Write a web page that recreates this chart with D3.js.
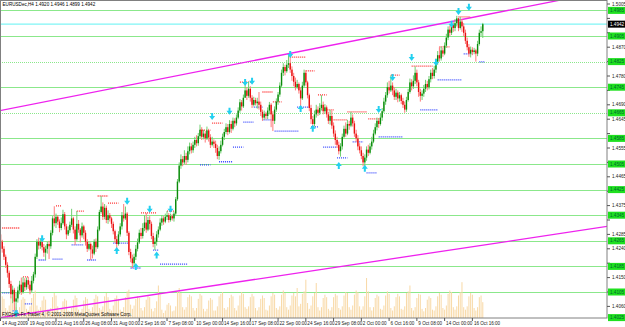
<!DOCTYPE html>
<html lang="en">
  <head>
    <meta charset="UTF-8" />
    <title>EURUSDec,H4</title>
    <style>
      body { margin: 0; background: #fff; }
      svg { display: block; }
      text { font-family: "Liberation Sans", Arial, sans-serif; }
    </style>
  </head>
  <body>
    <svg id="chart" width="625" height="327"></svg>
    <script src="https://cdn.jsdelivr.net/npm/d3@7"></script>
    <script>
      // ---- data ----
      var header = 'EURUSDec,H4  1.4920 1.4946 1.4899 1.4942';
      var footer = 'FXOpen-Fx Trader 4, © 2001-2009 MetaQuotes Software Corp.';

      var timeLabelBars = [0, 16, 32, 48, 64, 80, 96, 112, 128, 144, 160, 176, 192, 208, 224, 240, 256, 272];
      var timeLabels = ['14 Aug 2009', '19 Aug 00:00', '21 Aug 16:00', '26 Aug 08:00', '31 Aug 00:00', '2 Sep 16:00',
        '7 Sep 08:00', '10 Sep 00:00', '14 Sep 16:00', '17 Sep 08:00', '22 Sep 00:00', '24 Sep 16:00',
        '29 Sep 08:00', '2 Oct 00:00', '6 Oct 16:00', '9 Oct 08:00', '14 Oct 00:00', '16 Oct 16:00'];

      var priceTicks = [1.5005, 1.4960, 1.4915, 1.4870, 1.4825, 1.4780, 1.4735, 1.4690, 1.4645, 1.4600, 1.4555,
        1.4510, 1.4465, 1.4420, 1.4375, 1.4330, 1.4285, 1.4240, 1.4195, 1.4150, 1.4105, 1.4060];

      var levels = [1.4985, 1.4905, 1.4825, 1.4745, 1.4665, 1.4585, 1.4505, 1.4425, 1.4345, 1.4265, 1.4185, 1.4105, 1.4025];
      var dottedLevels = [1.4825, 1.4665];
      var bid = 1.4942;

      var firstOpen = 1.4285;
      var closes = [
        1.4262,1.4240,1.4215,1.4190,1.4165,1.4130,1.4098,1.4112,1.4075,1.4085,
        1.4110,1.4128,1.4105,1.4135,1.4120,1.4142,1.4128,1.4110,1.4140,1.4160,
        1.4215,1.4262,1.4250,1.4262,1.4245,1.4228,1.4240,1.4255,1.4248,1.4290,
        1.4335,1.4320,1.4340,1.4325,1.4305,1.4320,1.4348,1.4310,1.4285,1.4298,
        1.4315,1.4335,1.4300,1.4270,1.4318,1.4300,1.4282,1.4310,1.4290,1.4262,
        1.4240,1.4255,1.4238,1.4225,1.4262,1.4245,1.4300,1.4355,1.4372,1.4340,
        1.4368,1.4330,1.4345,1.4335,1.4318,1.4295,1.4270,1.4255,1.4285,1.4310,
        1.4345,1.4335,1.4350,1.4290,1.4230,1.4210,1.4195,1.4215,1.4240,1.4260,
        1.4290,1.4280,1.4305,1.4322,1.4300,1.4330,1.4318,1.4280,1.4255,1.4262,
        1.4285,1.4300,1.4322,1.4335,1.4325,1.4340,1.4345,1.4330,1.4342,1.4335,
        1.4350,1.4395,1.4450,1.4500,1.4520,1.4510,1.4530,1.4518,1.4545,1.4560,
        1.4548,1.4565,1.4580,1.4570,1.4592,1.4612,1.4590,1.4600,1.4585,1.4610,
        1.4588,1.4565,1.4575,1.4568,1.4555,1.4530,1.4545,1.4565,1.4590,1.4605,
        1.4620,1.4605,1.4630,1.4615,1.4640,1.4632,1.4650,1.4672,1.4698,1.4685,
        1.4712,1.4735,1.4718,1.4740,1.4712,1.4690,1.4705,1.4695,1.4700,1.4690,
        1.4668,1.4650,1.4662,1.4655,1.4672,1.4690,1.4660,1.4640,1.4675,1.4700,
        1.4722,1.4750,1.4790,1.4808,1.4795,1.4815,1.4820,1.4800,1.4780,1.4762,
        1.4745,1.4755,1.4735,1.4710,1.4750,1.4790,1.4760,1.4720,1.4680,1.4645,
        1.4630,1.4660,1.4675,1.4665,1.4680,1.4690,1.4670,1.4682,1.4660,1.4640,
        1.4655,1.4625,1.4600,1.4580,1.4565,1.4545,1.4560,1.4590,1.4615,1.4600,
        1.4630,1.4625,1.4650,1.4632,1.4600,1.4585,1.4560,1.4548,1.4530,1.4510,
        1.4525,1.4550,1.4540,1.4560,1.4575,1.4600,1.4620,1.4640,1.4630,1.4650,
        1.4670,1.4700,1.4720,1.4745,1.4735,1.4750,1.4735,1.4715,1.4728,1.4710,
        1.4720,1.4702,1.4690,1.4675,1.4705,1.4730,1.4760,1.4748,1.4765,1.4790,
        1.4760,1.4730,1.4718,1.4725,1.4740,1.4755,1.4745,1.4770,1.4790,1.4780,
        1.4800,1.4825,1.4845,1.4835,1.4860,1.4850,1.4875,1.4900,1.4925,1.4915,
        1.4940,1.4930,1.4945,1.4960,1.4930,1.4950,1.4935,1.4915,1.4890,1.4870,
        1.4850,1.4862,1.4855,1.4860,1.4850,1.4880,1.4915,1.4920,1.4942];
      var highs = [
        1.4305,1.4268,1.4248,1.4222,1.4198,1.4172,1.4140,1.4125,1.4118,1.4102,
        1.4122,1.4140,1.4150,1.4152,1.4148,1.4150,1.4152,1.4140,1.4155,1.4168,
        1.4225,1.4270,1.4275,1.4272,1.4278,1.4255,1.4250,1.4262,1.4265,1.4298,
        1.4342,1.4373,1.4350,1.4345,1.4332,1.4338,1.4362,1.4355,1.4318,1.4310,
        1.4325,1.4365,1.4340,1.4310,1.4358,1.4330,1.4305,1.4322,1.4315,1.4298,
        1.4270,1.4262,1.4260,1.4250,1.4270,1.4272,1.4310,1.4362,1.4405,1.4385,
        1.4380,1.4375,1.4360,1.4352,1.4340,1.4325,1.4300,1.4280,1.4295,1.4320,
        1.4355,1.4380,1.4372,1.4355,1.4295,1.4240,1.4222,1.4225,1.4252,1.4272,
        1.4300,1.4305,1.4320,1.4345,1.4352,1.4340,1.4342,1.4325,1.4290,1.4275,
        1.4295,1.4310,1.4335,1.4345,1.4342,1.4350,1.4358,1.4352,1.4350,1.4348,
        1.4356,1.4402,1.4458,1.4510,1.4535,1.4530,1.4548,1.4540,1.4560,1.4572,
        1.4570,1.4575,1.4590,1.4595,1.4602,1.4628,1.4620,1.4612,1.4608,1.4622,
        1.4615,1.4598,1.4590,1.4582,1.4578,1.4565,1.4560,1.4578,1.4600,1.4615,
        1.4632,1.4630,1.4642,1.4640,1.4650,1.4648,1.4660,1.4682,1.4708,1.4705,
        1.4722,1.4760,1.4745,1.4762,1.4748,1.4720,1.4715,1.4712,1.4712,1.4730,
        1.4700,1.4675,1.4672,1.4668,1.4682,1.4699,1.4695,1.4670,1.4685,1.4710,
        1.4730,1.4760,1.4800,1.4820,1.4815,1.4830,1.4845,1.4840,1.4810,1.4790,
        1.4775,1.4768,1.4760,1.4745,1.4762,1.4800,1.4798,1.4765,1.4725,1.4690,
        1.4655,1.4672,1.4690,1.4685,1.4695,1.4720,1.4700,1.4692,1.4688,1.4668,
        1.4674,1.4672,1.4635,1.4610,1.4590,1.4575,1.4570,1.4600,1.4625,1.4635,
        1.4643,1.4640,1.4668,1.4660,1.4640,1.4612,1.4595,1.4570,1.4560,1.4540,
        1.4535,1.4560,1.4565,1.4570,1.4590,1.4612,1.4632,1.4650,1.4648,1.4662,
        1.4680,1.4712,1.4730,1.4760,1.4765,1.4782,1.4760,1.4745,1.4740,1.4735,
        1.4730,1.4725,1.4712,1.4700,1.4715,1.4740,1.4772,1.4770,1.4782,1.4810,
        1.4800,1.4768,1.4740,1.4735,1.4752,1.4768,1.4765,1.4780,1.4800,1.4805,
        1.4812,1.4835,1.4858,1.4870,1.4872,1.4868,1.4885,1.4912,1.4935,1.4938,
        1.4950,1.4948,1.4958,1.4968,1.4962,1.4965,1.4958,1.4945,1.4925,1.4900,
        1.4880,1.4872,1.4870,1.4868,1.4865,1.4890,1.4925,1.4935,1.4946];
      var lows = [
        1.4250,1.4228,1.4205,1.4180,1.4150,1.4118,1.4085,1.4070,1.4048,1.4045,
        1.4072,1.4098,1.4096,1.4100,1.4108,1.4112,1.4115,1.4098,1.4105,1.4132,
        1.4150,1.4208,1.4238,1.4240,1.4235,1.4215,1.4205,1.4225,1.4208,1.4240,
        1.4282,1.4310,1.4305,1.4315,1.4292,1.4298,1.4315,1.4300,1.4270,1.4280,
        1.4290,1.4308,1.4288,1.4252,1.4265,1.4290,1.4260,1.4275,1.4270,1.4250,
        1.4230,1.4235,1.4205,1.4210,1.4220,1.4230,1.4240,1.4295,1.4350,1.4330,
        1.4332,1.4320,1.4318,1.4325,1.4305,1.4285,1.4258,1.4240,1.4250,1.4278,
        1.4300,1.4325,1.4330,1.4280,1.4220,1.4198,1.4180,1.4185,1.4205,1.4232,
        1.4255,1.4270,1.4272,1.4295,1.4290,1.4295,1.4300,1.4270,1.4245,1.4236,
        1.4250,1.4275,1.4295,1.4312,1.4315,1.4320,1.4330,1.4322,1.4325,1.4328,
        1.4325,1.4345,1.4390,1.4445,1.4490,1.4498,1.4505,1.4502,1.4510,1.4535,
        1.4538,1.4540,1.4555,1.4560,1.4562,1.4585,1.4580,1.4582,1.4572,1.4580,
        1.4575,1.4555,1.4560,1.4555,1.4540,1.4520,1.4518,1.4538,1.4560,1.4580,
        1.4598,1.4595,1.4600,1.4602,1.4610,1.4620,1.4625,1.4645,1.4665,1.4672,
        1.4680,1.4715,1.4705,1.4712,1.4700,1.4680,1.4685,1.4688,1.4678,1.4675,
        1.4655,1.4640,1.4643,1.4645,1.4645,1.4660,1.4620,1.4608,1.4630,1.4668,
        1.4690,1.4715,1.4745,1.4780,1.4782,1.4790,1.4805,1.4790,1.4765,1.4748,
        1.4735,1.4740,1.4725,1.4683,1.4705,1.4745,1.4750,1.4710,1.4670,1.4630,
        1.4620,1.4622,1.4650,1.4655,1.4658,1.4672,1.4660,1.4662,1.4650,1.4630,
        1.4628,1.4615,1.4590,1.4565,1.4555,1.4535,1.4528,1.4550,1.4585,1.4590,
        1.4595,1.4612,1.4620,1.4622,1.4590,1.4574,1.4548,1.4538,1.4520,1.4498,
        1.4483,1.4515,1.4530,1.4535,1.4550,1.4570,1.4595,1.4610,1.4618,1.4625,
        1.4640,1.4665,1.4690,1.4712,1.4725,1.4730,1.4720,1.4705,1.4705,1.4698,
        1.4700,1.4692,1.4680,1.4665,1.4668,1.4700,1.4725,1.4735,1.4740,1.4755,
        1.4748,1.4715,1.4700,1.4705,1.4715,1.4730,1.4735,1.4738,1.4760,1.4770,
        1.4772,1.4790,1.4815,1.4825,1.4828,1.4840,1.4845,1.4868,1.4892,1.4905,
        1.4908,1.4918,1.4920,1.4935,1.4920,1.4925,1.4918,1.4905,1.4880,1.4860,
        1.4840,1.4838,1.4845,1.4848,1.4825,1.4842,1.4875,1.4905,1.4899];
      var volumes = [
        2100,2600,2300,1200,
        900,1500,2600,3100,2800,1300, 800,1300,2200,2500,2300,1100, 900,1400,2400,2900,3300,1500,
        1000,1300,2100,2600,2200,1000, 800,1200,2500,3000,2700,1400,
        700,1100,2000,2300,2100,900, 800,1200,2200,2700,2400,1000, 700,1100,2100,2500,2300,1100,
        800,1300,2300,2800,2600,1200, 1000,1400,2600,3000,2500,1100,
        900,1500,2400,2700,2300,1000, 800,1300,2500,3200,3400,1600, 1100,1500,2300,2600,2400,1200,
        900,1300,2200,2700,2500,1100, 800,1200,2000,3900,2800,1000,
        600,900,1600,1800,1500,800, 900,1400,3200,3600,3000,1300, 1000,1300,2500,2800,2600,1200,
        900,1200,2300,2900,2700,1100, 800,1100,2100,2400,2200,900,
        900,1400,2600,2900,3100,1200, 1000,1300,2400,2800,2600,1200, 900,1500,2700,3100,2900,1300,
        1100,1400,2500,2900,2600,1200, 900,1300,2300,2700,2400,1000,
        900,1500,2600,3000,2800,1200, 1000,1400,2800,3300,3000,1300, 1000,1500,2700,3000,2600,3600,
        1400,1700,2900,3200,4600,1800, 1100,1500,2600,3000,4200,1300,
        900,1300,2400,2800,2500,1100, 900,1300,2500,2900,2700,1200, 1000,1400,2700,3100,3000,1300,
        1000,1500,2800,3300,3100,1400, 1000,1400,2600,4800,3200,1300,
        900,1300,2400,2800,2600,1100, 1000,1500,2700,3200,2900,1200, 900,1400,2500,2900,2600,1100,
        1000,1400,3000,3200,3900,1200, 900,1300,2400,2900,2800,1100,
        800,1200,2200,2600,2400,1000, 900,1400,2600,3000,2800,1200, 1000,1500,2900,3300,3100,1300,
        1000,1400,2700,3100,4300,1300, 1000,1400,2600,3000,2800,1200,
        900,1300,2500,2700,1900];

      // trend lines: two anchor points [bar, price]
      var trendUpper = [[0, 1.4672], [300, 1.4993]];
      var trendLower = [[10, 1.4033], [340, 1.4302]];

      // dotted fractal levels [fromBar, toBar, price]
      var resistMarks = [[1, 11, 1.4305], [13, 16, 1.4152], [32, 35, 1.4374], [44, 48, 1.4358], [56, 62, 1.4405],
        [62, 68, 1.4383], [81, 90, 1.4352], [96, 101, 1.4358], [115, 121, 1.4611], [122, 128, 1.4633],
        [138, 146, 1.4761], [151, 157, 1.4730], [157, 162, 1.4699], [167, 176, 1.4839], [176, 181, 1.4796],
        [183, 188, 1.4721], [188, 192, 1.4674], [192, 200, 1.4643], [200, 211, 1.4668], [212, 219, 1.4646],
        [225, 230, 1.4783], [237, 249, 1.4811], [253, 259, 1.4871], [264, 271, 1.4965]];
      var supportMarks = [[1, 7, 1.4102], [7, 10, 1.4046], [14, 18, 1.4068], [22, 26, 1.4205], [30, 36, 1.4208],
        [41, 48, 1.4252], [50, 55, 1.4205], [65, 74, 1.4258], [75, 81, 1.4180], [88, 91, 1.4236],
        [92, 108, 1.4192], [115, 121, 1.4502], [126, 134, 1.4512], [134, 140, 1.4558], [140, 146, 1.4636],
        [146, 151, 1.4683], [151, 157, 1.4643], [158, 172, 1.4608], [171, 179, 1.4683], [179, 183, 1.4621],
        [186, 194, 1.4558], [194, 200, 1.4524], [203, 209, 1.4574], [211, 217, 1.4477], [218, 232, 1.4590],
        [242, 252, 1.4674], [252, 266, 1.4768], [267, 272, 1.4849], [276, 279, 1.4824]];

      // arrows [bar, price, direction]
      var arrows = [[9, 1.4040, 'up'], [24, 1.4270, 'down'], [67, 1.4236, 'up'], [73, 1.4387, 'down'],
        [78, 1.4186, 'up'], [86, 1.4362, 'down'], [90, 1.4222, 'up'], [98, 1.4362, 'down'],
        [122, 1.4652, 'down'], [132, 1.4668, 'down'], [141, 1.4758, 'down'], [145, 1.4762, 'down'],
        [167, 1.4846, 'down'], [173, 1.4680, 'up'], [180, 1.4618, 'up'], [195, 1.4502, 'up'],
        [210, 1.4493, 'up'], [218, 1.4674, 'down'], [226, 1.4774, 'down'], [237, 1.4836, 'down'],
        [251, 1.4821, 'down'], [260, 1.4940, 'down'], [264, 1.4980, 'down'], [270, 1.4993, 'down']];

      // ---- layout ----
      var W = 625, H = 327;
      var plotRight = 607, plotBottom = 318;
      var svg = d3.select('#chart');

      var x = d3.scaleLinear().domain([0, 349.6]).range([0.5, plotRight]);
      var y = d3.scaleLinear().domain([1.402375, 1.50175]).range([plotBottom, 0]);
      var yv = d3.scaleLinear().domain([0, 6000]).range([plotBottom, plotBottom - 50]);

      var bars = closes.map(function (c, i) {
        return { i: i, o: i === 0 ? firstOpen : closes[i - 1], h: highs[i], l: lows[i], c: c, v: volumes[i] };
      });

      svg.append('rect').attr('width', W).attr('height', H).attr('fill', '#fff');

      svg.append('defs').append('clipPath').attr('id', 'plot')
        .append('rect').attr('x', 0).attr('y', 0).attr('width', plotRight).attr('height', plotBottom);

      var plot = svg.append('g').attr('clip-path', 'url(#plot)');

      // horizontal levels
      plot.append('g').selectAll('line').data(levels).join('line')
        .attr('x1', 0).attr('x2', plotRight)
        .attr('y1', d => Math.round(y(d)) + 0.5).attr('y2', d => Math.round(y(d)) + 0.5)
        .attr('stroke', '#8be88b').attr('stroke-width', 1.2)
        .attr('stroke-dasharray', d => dottedLevels.indexOf(d) >= 0 ? '1,1' : null);

      plot.append('line')
        .attr('x1', 0).attr('x2', plotRight)
        .attr('y1', y(bid)).attr('y2', y(bid))
        .attr('stroke', '#7ff5f5').attr('stroke-width', 1.2);

      // volumes
      plot.append('g').selectAll('rect').data(bars).join('rect')
        .attr('x', d => x(d.i) - 0.5).attr('width', 1)
        .attr('y', d => yv(d.v)).attr('height', d => plotBottom - yv(d.v))
        .attr('fill', '#f8d9a6');

      // trend lines
      function trendPath(pts) {
        var k = (pts[1][1] - pts[0][1]) / (pts[1][0] - pts[0][0]);
        var b0 = -5, b1 = 355;
        return [[x(b0), y(pts[0][1] + k * (b0 - pts[0][0]))], [x(b1), y(pts[0][1] + k * (b1 - pts[0][0]))]];
      }
      plot.append('g').selectAll('path').data([trendUpper, trendLower]).join('path')
        .attr('d', d => d3.line()(trendPath(d)))
        .attr('stroke', '#ee22ee').attr('stroke-width', 1.3).attr('fill', 'none');

      // fractal levels
      plot.append('g').selectAll('line').data(resistMarks).join('line')
        .attr('x1', d => x(d[0])).attr('x2', d => x(d[1]))
        .attr('y1', d => y(d[2])).attr('y2', d => y(d[2]))
        .attr('stroke', '#ff3030').attr('stroke-width', 1.3).attr('stroke-dasharray', '1,1');
      plot.append('g').selectAll('line').data(supportMarks).join('line')
        .attr('x1', d => x(d[0])).attr('x2', d => x(d[1]))
        .attr('y1', d => y(d[2])).attr('y2', d => y(d[2]))
        .attr('stroke', '#3344ff').attr('stroke-width', 1.3).attr('stroke-dasharray', '1,1');

      // candles
      var candle = plot.append('g').selectAll('g').data(bars).join('g');
      candle.append('line')
        .attr('x1', d => x(d.i)).attr('x2', d => x(d.i))
        .attr('y1', d => y(Math.max(d.h, d.o, d.c))).attr('y2', d => y(Math.min(d.l, d.o, d.c)))
        .attr('stroke', d => d.c >= d.o ? '#6fcf6f' : '#ff7a7a').attr('stroke-width', 1);
      candle.append('rect')
        .attr('x', d => x(d.i) - 0.7).attr('width', 1.4)
        .attr('y', d => y(Math.max(d.o, d.c)))
        .attr('height', d => Math.max(0.8, y(Math.min(d.o, d.c)) - y(Math.max(d.o, d.c))))
        .attr('fill', d => d.c >= d.o ? '#0a8a0a' : '#e81010');

      // arrows
      plot.append('g').selectAll('path').data(arrows).join('path')
        .attr('transform', d => 'translate(' + x(d[0]) + ',' + y(d[1]) + ')' + (d[2] === 'up' ? ' scale(1,-1)' : ''))
        .attr('d', 'M-1,-4H1V-1H3L0,3L-3,-1H-1Z')
        .attr('fill', '#22d0f0');

      // frame
      svg.append('rect').attr('x', 0.5).attr('y', 0.5).attr('width', plotRight - 0.5).attr('height', plotBottom - 0.5)
        .attr('fill', 'none').attr('stroke', '#808080').attr('stroke-width', 1);

      // price axis; labels hidden under a level tag are not drawn (as in the terminal)
      var tagYs = levels.concat([bid]).map(y);
      var freeTicks = priceTicks.filter(p => tagYs.every(t => Math.abs(y(p) - t) > 6));
      var yAxis = svg.append('g').style('font-size', '4.6px');
      yAxis.selectAll('line').data(priceTicks).join('line')
        .attr('x1', plotRight).attr('x2', plotRight + 3)
        .attr('y1', d => y(d)).attr('y2', d => y(d)).attr('stroke', '#555');
      yAxis.selectAll('text').data(freeTicks).join('text')
        .attr('x', plotRight + 5).attr('y', d => y(d)).attr('dy', '0.35em')
        .attr('fill', '#222').text(d => d.toFixed(4));

      var levelTag = svg.append('g').style('font-size', '4.6px');
      levelTag.selectAll('rect').data(levels).join('rect')
        .attr('x', plotRight + 1).attr('y', d => y(d) - 3.5).attr('width', 17).attr('height', 7)
        .attr('fill', '#1fe01f');
      levelTag.selectAll('text').data(levels).join('text')
        .attr('x', plotRight + 3).attr('y', d => y(d)).attr('dy', '0.35em')
        .attr('fill', '#063').text(d => d.toFixed(4));

      svg.append('rect').attr('x', plotRight + 1).attr('y', y(bid) - 3.5).attr('width', 17).attr('height', 7).attr('fill', '#000');
      svg.append('text').attr('x', plotRight + 3).attr('y', y(bid)).attr('dy', '0.35em')
        .style('font-size', '4.6px').attr('fill', '#fff').text(bid.toFixed(4));

      // time axis
      var xAxis = svg.append('g').style('font-size', '4.6px');
      xAxis.selectAll('line').data(timeLabelBars).join('line')
        .attr('x1', d => x(d)).attr('x2', d => x(d))
        .attr('y1', plotBottom).attr('y2', plotBottom + 3).attr('stroke', '#555');
      xAxis.selectAll('text').data(timeLabelBars).join('text')
        .attr('x', d => x(d) + 1.5).attr('y', plotBottom + 6.5)
        .attr('fill', '#222').text((d, i) => timeLabels[i]);

      // captions
      svg.append('text').attr('x', 2.5).attr('y', 6).style('font-size', '4.6px').attr('fill', '#000').text(header);
      svg.append('text').attr('x', 2).attr('y', 315.5).style('font-size', '4.6px').attr('fill', '#000').text(footer);
    </script>
  </body>
</html>
